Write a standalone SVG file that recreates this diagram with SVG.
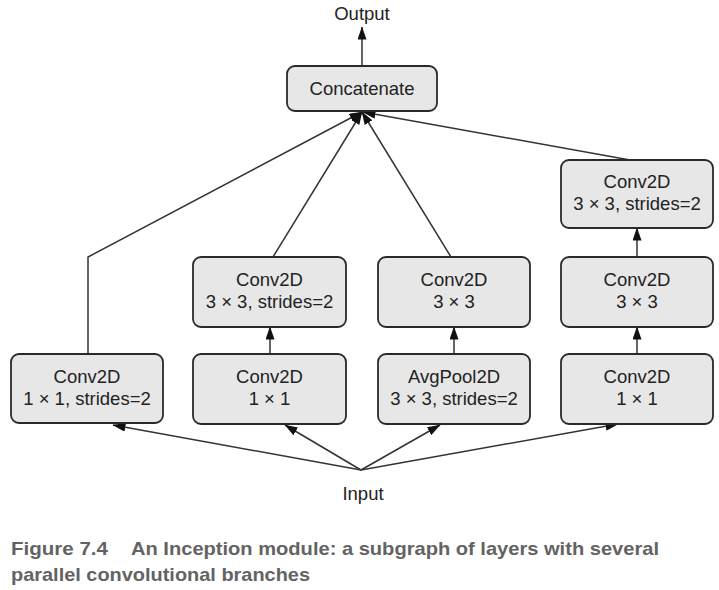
<svg xmlns="http://www.w3.org/2000/svg" width="719" height="590" viewBox="0 0 719 590">
<style>
.box{fill:#e7e7e7;stroke:#2a2a2a;stroke-width:1.8}
.t{font-family:"Liberation Sans",Arial,sans-serif;font-size:18.5px;fill:#222;text-anchor:middle}
.c{fill:none;stroke:#333;stroke-width:1.5;marker-end:url(#ah)}
.cap{font-family:"Liberation Sans",Arial,sans-serif;font-size:19px;font-weight:bold;fill:#636363}
</style>
<defs>
<marker id="ah" markerUnits="userSpaceOnUse" markerWidth="13" markerHeight="9" refX="12.5" refY="4.5" orient="auto">
<path d="M0,0 L13,4.5 L0,9 z" fill="#111"/>
</marker>
</defs>
<rect width="719" height="590" fill="#fff"/>
<g id="connectors">
<line class="c" x1="362" y1="66" x2="362" y2="27"/>
<polyline class="c" points="88,354 88,257 362,112"/>
<line class="c" x1="273" y1="257" x2="362" y2="112"/>
<line class="c" x1="451" y1="257" x2="362" y2="112"/>
<line class="c" x1="630" y1="160" x2="363" y2="112"/>
<line class="c" x1="270" y1="354" x2="270" y2="327"/>
<line class="c" x1="454" y1="354" x2="454" y2="327"/>
<line class="c" x1="637" y1="354" x2="637" y2="327"/>
<line class="c" x1="637" y1="257" x2="637" y2="228"/>
<line class="c" x1="361" y1="470" x2="113" y2="425"/>
<line class="c" x1="361" y1="470" x2="285" y2="425"/>
<line class="c" x1="361" y1="470" x2="440" y2="425"/>
<line class="c" x1="361" y1="470" x2="618" y2="424"/>
</g>
<g id="output"><text class="t" x="362" y="20">Output</text></g>
<g id="input"><text class="t" x="363" y="500">Input</text></g>
<g id="concat"><rect class="box" x="287" y="66" width="150" height="45" rx="8"/><text class="t" x="362" y="94.5">Concatenate</text></g>
<g id="b1"><rect class="box" x="11" y="354" width="152" height="69" rx="8"/><text class="t" x="87" y="383">Conv2D</text><text class="t" x="87" y="405">1 × 1, strides=2</text></g>
<g id="b2"><rect class="box" x="193" y="354" width="153" height="70" rx="8"/><text class="t" x="269.5" y="383">Conv2D</text><text class="t" x="269.5" y="405">1 × 1</text></g>
<g id="b3"><rect class="box" x="378" y="354" width="152" height="70" rx="8"/><text class="t" x="454" y="383">AvgPool2D</text><text class="t" x="454" y="405">3 × 3, strides=2</text></g>
<g id="b4"><rect class="box" x="561" y="354" width="152" height="70" rx="8"/><text class="t" x="637" y="383">Conv2D</text><text class="t" x="637" y="405">1 × 1</text></g>
<g id="m2"><rect class="box" x="193" y="257" width="153" height="70" rx="8"/><text class="t" x="269.5" y="285.5">Conv2D</text><text class="t" x="269.5" y="307.5">3 × 3, strides=2</text></g>
<g id="m3"><rect class="box" x="378" y="257" width="152" height="70" rx="8"/><text class="t" x="454" y="285.5">Conv2D</text><text class="t" x="454" y="307.5">3 × 3</text></g>
<g id="m4"><rect class="box" x="561" y="257" width="152" height="70" rx="8"/><text class="t" x="637" y="285.5">Conv2D</text><text class="t" x="637" y="307.5">3 × 3</text></g>
<g id="t4"><rect class="box" x="561" y="160" width="152" height="68" rx="8"/><text class="t" x="637" y="188">Conv2D</text><text class="t" x="637" y="209.5">3 × 3, strides=2</text></g>
<g id="caption">
<text class="cap" x="11" y="555" textLength="97" lengthAdjust="spacingAndGlyphs">Figure 7.4</text>
<text class="cap" x="131" y="555" textLength="528" lengthAdjust="spacingAndGlyphs">An Inception module: a subgraph of layers with several</text>
<text class="cap" x="11" y="581" textLength="299" lengthAdjust="spacingAndGlyphs">parallel convolutional branches</text>
</g>
</svg>
